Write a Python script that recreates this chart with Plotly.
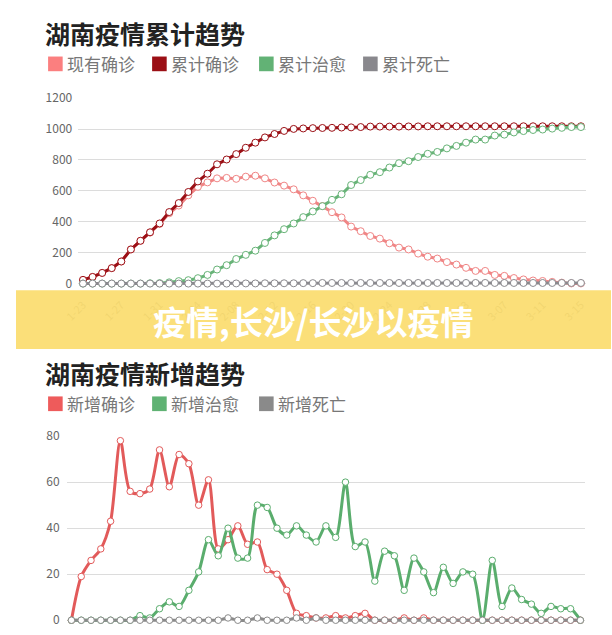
import plotly.graph_objects as go

W, H = 612, 635

dates = ["1-23", "1-24", "1-25", "1-26", "1-27", "1-28", "1-29", "1-30", "1-31",
         "2-01", "2-02", "2-03", "2-04", "2-05", "2-06", "2-07", "2-08", "2-09", "2-10",
         "2-11", "2-12", "2-13", "2-14", "2-15", "2-16", "2-17", "2-18", "2-19", "2-20",
         "2-21", "2-22", "2-23", "2-24", "2-25", "2-26", "2-27", "2-28", "2-29",
         "3-01", "3-02", "3-03", "3-04", "3-05", "3-06", "3-07", "3-08", "3-09", "3-10",
         "3-11", "3-12", "3-13", "3-14", "3-15"]
tick_labels = ["1-23", "1-27", "1-31", "2-04", "2-08", "2-12", "2-16", "2-20",
               "2-24", "2-28", "3-03", "3-07", "3-11", "3-15"]

# cumulative chart
current_confirmed = [24, 43, 69, 100, 143, 221, 277, 330, 386, 455,
                     505, 571, 626, 655, 681, 684, 678, 692, 698, 681,
                     654, 634, 610, 571, 536, 502, 462, 428, 369, 339,
                     308, 291, 261, 233, 221, 194, 174, 162, 139, 123,
                     102, 82, 82, 56, 50, 36, 27, 20, 17, 11,
                     6, 1, 1]
cum_confirmed = [24, 43, 69, 100, 143, 221, 277, 332, 389, 463,
                 521, 593, 661, 711, 772, 803, 838, 879, 912, 946,
                 968, 988, 1001, 1004, 1006, 1007, 1008, 1010, 1011, 1013,
                 1016, 1016, 1016, 1016, 1017, 1017, 1018, 1018, 1018, 1018,
                 1018, 1018, 1018, 1018, 1018, 1018, 1018, 1018, 1018, 1018,
                 1018, 1018, 1018]
cum_cured = [0, 0, 0, 0, 0, 0, 0, 2, 3, 8,
             16, 22, 35, 56, 91, 119, 159, 186, 213, 263,
             312, 352, 389, 430, 467, 501, 542, 578, 638, 670,
             704, 721, 751, 779, 792, 819, 840, 852, 875, 891,
             912, 932, 932, 958, 964, 978, 987, 994, 997, 1003,
             1008, 1013, 1013]
cum_dead = [0, 0, 0, 0, 0, 0, 0, 0, 0, 0,
            0, 0, 0, 0, 0, 0, 1, 1, 1, 2,
            2, 2, 2, 3, 3, 4, 4, 4, 4, 4,
            4, 4, 4, 4, 4, 4, 4, 4, 4, 4,
            4, 4, 4, 4, 4, 4, 4, 4, 4, 4,
            4, 4, 4]

# daily chart
new_confirmed = [0, 19, 26, 31, 43, 78, 56, 55, 57, 74,
                 58, 72, 68, 50, 61, 31, 35, 41, 33, 34,
                 22, 20, 13, 3, 2, 1, 1, 2, 1, 2,
                 3, 0, 0, 0, 1, 0, 1, 0, 0, 0,
                 0, 0, 0, 0, 0, 0, 0, 0, 0, 0,
                 0, 0, 0]
new_cured = [0, 0, 0, 0, 0, 0, 0, 2, 1, 5,
             8, 6, 13, 21, 35, 28, 40, 27, 27, 50,
             49, 40, 37, 41, 37, 34, 41, 36, 60, 32,
             34, 17, 30, 28, 13, 27, 21, 12, 23, 16,
             21, 20, 0, 26, 6, 14, 9, 7, 3, 6,
             5, 5, 0]
new_dead = [0, 0, 0, 0, 0, 0, 0, 0, 0, 0,
            0, 0, 0, 0, 0, 0, 1, 0, 0, 1,
            0, 0, 0, 1, 0, 1, 0, 0, 0, 0,
            0, 0, 0, 0, 0, 0, 0, 0, 0, 0,
            0, 0, 0, 0, 0, 0, 0, 0, 0, 0,
            0, 0, 0]

top_title = "湖南疫情累计趋势"
bottom_title = "湖南疫情新增趋势"
banner_text = "疫情,长沙/长沙以疫情"

top_names = ["现有确诊", "累计确诊", "累计治愈", "累计死亡"]
top_colors = ["#f08585", "#9b0f15", "#67b377", "#89888d"]
top_legend_colors = ["#fb7f7f", "#9b0f15", "#62b275", "#89888d"]
bottom_names = ["新增确诊", "新增治愈", "新增死亡"]
bottom_colors = ["#e25a5a", "#5aad6d", "#8a8a8a"]
bottom_legend_colors = ["#ee5b5b", "#5fb273", "#8a8a8a"]

FONT = "Noto Sans CJK SC"


def py(px):
    return 1 - px / H


def pxx(px):
    return px / W


fig = go.Figure()

top_series = [current_confirmed, cum_confirmed, cum_cured, cum_dead]
for name, vals, col in zip(top_names, top_series, top_colors):
    fig.add_trace(go.Scatter(
        x=dates, y=vals, name=name, mode="lines+markers",
        line=dict(color=col, width=3),
        marker=dict(symbol="circle", size=7, color="white",
                    line=dict(color=col, width=1)),
        cliponaxis=False, showlegend=False, xaxis="x", yaxis="y"))

bottom_series = [new_confirmed, new_cured, new_dead]
for name, vals, col in zip(bottom_names, bottom_series, bottom_colors):
    fig.add_trace(go.Scatter(
        x=dates, y=vals, name=name, mode="lines+markers",
        line=dict(color=col, width=3, shape="spline", smoothing=0.8),
        marker=dict(symbol="circle", size=6.5, color="white",
                    line=dict(color=col, width=1)),
        cliponaxis=False, showlegend=False, xaxis="x2", yaxis="y2"))

axis_font = dict(family=FONT, size=12, color="#666")

fig.update_layout(
    width=W, height=H, autosize=False,
    margin=dict(l=0, r=0, t=0, b=0),
    paper_bgcolor="white", plot_bgcolor="white",
    font=dict(family=FONT),
    xaxis=dict(type="category", domain=[pxx(64), pxx(586)],
               range=[-0.5, len(dates) - 0.5],
               tickmode="array", tickvals=tick_labels, ticktext=tick_labels,
               tickangle=-45, showgrid=False, zeroline=False, showline=False,
               ticks="", ticklabelstandoff=8,
               tickfont=dict(family=FONT, size=11, color="#999"),
               anchor="y"),
    yaxis=dict(domain=[py(283.25), py(90)], range=[-25, 1200],
               tickvals=[0, 200, 400, 600, 800, 1000, 1200],
               showgrid=True, gridcolor="#dcdcdc", gridwidth=1,
               zeroline=False, showline=False, ticks="",
               ticklabelstandoff=5, tickfont=axis_font, anchor="x"),
    xaxis2=dict(type="category", domain=[pxx(52), pxx(585.5)],
                range=[-0.5, len(dates) - 0.5],
                showticklabels=False, showgrid=False, zeroline=False,
                showline=False, ticks="", anchor="y2"),
    yaxis2=dict(domain=[py(630.05), py(435)], range=[-3, 80],
                tickvals=[0, 20, 40, 60, 80],
                showgrid=True, gridcolor="#dcdcdc", gridwidth=1,
                zeroline=False, showline=False, ticks="",
                ticklabelstandoff=6, tickfont=axis_font, anchor="x2"),
)

annotations = []
shapes = []

# titles
for title, yc in [(top_title, 23), (bottom_title, 371)]:
    annotations.append(dict(
        text=title, xref="paper", yref="paper", x=pxx(28), y=py(yc),
        xanchor="left", yanchor="middle", showarrow=False,
        font=dict(family=FONT, size=25, color="#222", weight=700)))


# legends
def add_legend(names, colors, starts, yc):
    for name, col, x0 in zip(names, colors, starts):
        shapes.append(dict(type="rect", xref="paper", yref="paper",
                           x0=pxx(x0), x1=pxx(x0 + 15),
                           y0=py(yc + 7.5), y1=py(yc - 7.5),
                           fillcolor=col, line=dict(width=0)))
        annotations.append(dict(
            text=name, xref="paper", yref="paper", x=pxx(x0 + 17), y=py(yc),
            xanchor="left", yanchor="middle", showarrow=False,
            font=dict(family=FONT, size=17, color="#777")))


add_legend(top_names, top_legend_colors, [33, 140, 250, 357], 55)
add_legend(bottom_names, bottom_legend_colors, [33, 140, 250], 402)

# banner
shapes.append(dict(type="rect", xref="paper", yref="paper",
                   x0=0, x1=1, y0=py(346), y1=py(286),
                   fillcolor="rgba(251,219,106,0.9)", line=dict(width=0),
                   layer="above"))
annotations.append(dict(
    text=banner_text, xref="paper", yref="paper", x=0.5, y=py(317),
    xanchor="center", yanchor="middle", showarrow=False,
    font=dict(family=FONT, size=33, color="white", weight=700)))

fig.update_layout(annotations=annotations, shapes=shapes)

post = (
    "var gd=document.getElementById('{plot_id}');"
    "document.documentElement.style.margin='0';"
    "document.documentElement.style.padding='0';"
    "document.body.style.margin='0';document.body.style.padding='0';"
    "document.body.style.overflow='hidden';"
    "gd.style.position='fixed';gd.style.left='0px';gd.style.top='0px';"
)

fig.write_html("out.html", config={"displayModeBar": False}, post_script=post)
